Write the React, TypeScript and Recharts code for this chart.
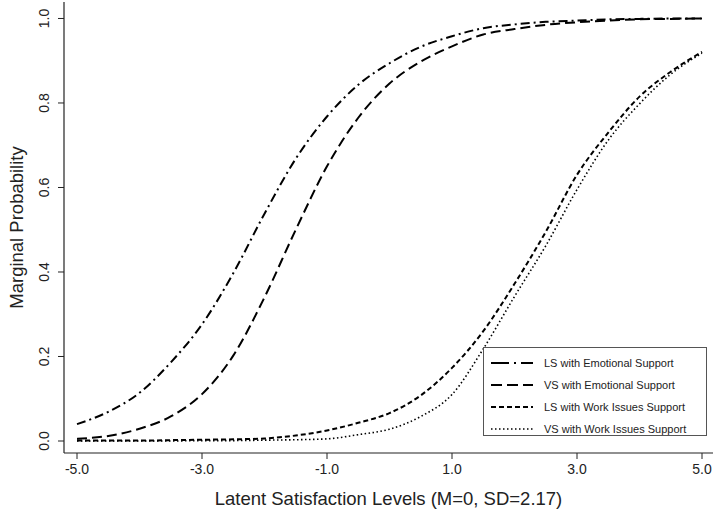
import React from "react";
import { LineChart, Line, XAxis, YAxis, Legend } from "recharts";

const X_VALUES = [-5, -4.5, -4, -3.5, -3, -2.5, -2, -1.5, -1, -0.5, 0, 0.5, 1, 1.5, 2, 2.5, 3, 3.5, 4, 4.5, 5];
const LS_EMOTIONAL = [0.04, 0.069, 0.114, 0.186, 0.276, 0.397, 0.538, 0.668, 0.768, 0.843, 0.894, 0.933, 0.958, 0.977, 0.986, 0.992, 0.995, 0.998, 0.999, 1.0, 1.0];
const VS_EMOTIONAL = [0.005, 0.012, 0.029, 0.058, 0.111, 0.202, 0.34, 0.5, 0.65, 0.765, 0.846, 0.898, 0.934, 0.962, 0.975, 0.985, 0.991, 0.995, 0.998, 0.999, 1.0];
const LS_WORK = [0.001, 0.001, 0.001, 0.002, 0.003, 0.004, 0.006, 0.013, 0.025, 0.043, 0.066, 0.108, 0.173, 0.26, 0.372, 0.495, 0.63, 0.73, 0.815, 0.874, 0.921];
const VS_WORK = [0, 0, 0, 0, 0.001, 0.001, 0.002, 0.003, 0.005, 0.015, 0.028, 0.058, 0.11, 0.218, 0.342, 0.462, 0.595, 0.712, 0.798, 0.868, 0.918];

const X_TICKS = [-5, -3, -1, 1, 3, 5];
const Y_TICKS = [0, 0.2, 0.4, 0.6, 0.8, 1.0];

const SERIES_NAMES = [
  "LS with Emotional Support",
  "VS with Emotional Support",
  "LS with Work Issues Support",
  "VS with Work Issues Support",
];
const SERIES_KEYS = ["lsEmo", "vsEmo", "lsWork", "vsWork"];
const SERIES_DASH = ["9 4 2 4", "10 5", "5 3", "1.5 2.5"];
const SERIES_WIDTH = [2, 2, 2, 1.6];
const LEGEND_DASH = ["18 5 2 5 12", "11 5", "5 3", "1.5 2.5"];

const data = X_VALUES.map((x, i) => ({
  x,
  lsEmo: LS_EMOTIONAL[i],
  vsEmo: VS_EMOTIONAL[i],
  lsWork: LS_WORK[i],
  vsWork: VS_WORK[i],
}));

const FONT = "'Liberation Sans', Arial, sans-serif";
const TEXT_COLOR = "#222";

const XTick = (props: any) => {
  const { x, y, payload } = props;
  return (
    <text x={x} y={y + 8} textAnchor="middle" dominantBaseline="central" fontSize={14} fontFamily={FONT} fill={TEXT_COLOR}>
      {Number(payload.value).toFixed(1)}
    </text>
  );
};

const YTick = (props: any) => {
  const { x, y, payload } = props;
  const cx = x - 12;
  return (
    <text
      x={cx}
      y={y}
      transform={`rotate(-90, ${cx}, ${y})`}
      textAnchor="middle"
      dominantBaseline="central"
      fontSize={14}
      fontFamily={FONT}
      fill={TEXT_COLOR}
    >
      {Number(payload.value).toFixed(1)}
    </text>
  );
};

const renderLegend = () => (
  <svg width={224} height={89} style={{ display: "block" }}>
    <rect x={0.5} y={0.5} width={223} height={88} fill="#fff" stroke="#555" strokeWidth={1} />
    {SERIES_NAMES.map((name, i) => {
      const ry = 16 + i * 22;
      return (
        <g key={name}>
          <line x1={8} x2={50} y1={ry} y2={ry} stroke="#000" strokeWidth={SERIES_WIDTH[i]} strokeDasharray={LEGEND_DASH[i]} />
          <text x={61} y={ry} dominantBaseline="central" fontSize={11} fontFamily={FONT} fill={TEXT_COLOR}>
            {name}
          </text>
        </g>
      );
    })}
  </svg>
);

export default function App() {
  return (
    <div style={{ position: "absolute", left: 0, top: 0, width: 721, height: 516, background: "#fff" }}>
      <LineChart width={721} height={516} data={data} margin={{ top: 2, right: 8, bottom: 0, left: 0 }}>
        <XAxis
          dataKey="x"
          type="number"
          domain={[-5.208, 5.176]}
          ticks={X_TICKS}
          tick={<XTick />}
          tickSize={6}
          height={63}
          stroke="#222"
          axisLine={{ stroke: "#222", strokeWidth: 1.2 }}
          tickLine={{ stroke: "#222" }}
          allowDataOverflow
          label={{
            value: "Latent Satisfaction Levels (M=0, SD=2.17)",
            position: "insideBottom",
            offset: 11,
            style: { fontSize: 18.5, fontFamily: FONT, fill: TEXT_COLOR },
          }}
        />
        <YAxis
          type="number"
          domain={[-0.0284, 1.039]}
          ticks={Y_TICKS}
          tick={<YTick />}
          tickSize={6}
          width={64}
          stroke="#222"
          axisLine={{ stroke: "#222", strokeWidth: 1.2 }}
          tickLine={{ stroke: "#222" }}
          allowDataOverflow
          label={{
            content: (p: any) => {
              const vb = p.viewBox || { x: 0, y: 2, width: 64, height: 451 };
              const cy = vb.y + vb.height / 2;
              const cx = 16;
              return (
                <text
                  x={cx}
                  y={cy}
                  transform={`rotate(-90, ${cx}, ${cy})`}
                  textAnchor="middle"
                  dominantBaseline="central"
                  fontSize={18.5}
                  fontFamily={FONT}
                  fill={TEXT_COLOR}
                >
                  Marginal Probability
                </text>
              );
            },
          }}
        />
        <Legend
          layout="vertical"
          align="center"
          verticalAlign="middle"
          content={renderLegend}
          wrapperStyle={{ position: "absolute", left: 483, top: 347, width: 224, height: 89 }}
        />
        {SERIES_KEYS.map((k, i) => (
          <Line
            key={k}
            dataKey={k}
            name={SERIES_NAMES[i]}
            type="monotone"
            stroke="#000"
            strokeWidth={SERIES_WIDTH[i]}
            strokeDasharray={SERIES_DASH[i]}
            dot={false}
            activeDot={false}
            isAnimationActive={false}
          />
        ))}
      </LineChart>
    </div>
  );
}
